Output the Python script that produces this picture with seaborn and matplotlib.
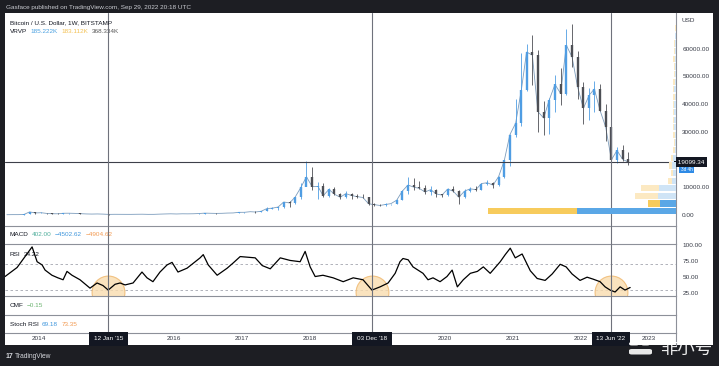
import numpy as np
import pandas as pd
import matplotlib
matplotlib.use("Agg")
import matplotlib.pyplot as plt
import seaborn as sns
from matplotlib.patches import FancyBboxPatch

# ---- data (BTC/USD Bitstamp, monthly candles) ----
month_start = "2013-07-01"
first_open = 97
closes = [106, 135, 133, 204, 1130, 732,
          830, 570, 458, 448, 628, 640, 586, 478, 386, 338, 378, 320,
          217, 254, 244, 236, 230, 264, 284, 230, 236, 314, 377, 430,
          368, 437, 416, 448, 531, 673, 624, 575, 609, 700, 742, 963,
          970, 1190, 1080, 1348, 2300, 2480, 2875, 4700, 4340, 6450, 9950, 13800,
          10200, 10330, 6930, 9240, 7500, 6390, 7730, 7030, 6620, 6320, 4040, 3740,
          3440, 3810, 4100, 5320, 8570, 10820, 10080, 9600, 8300, 9150, 7570, 7190,
          9350, 8540, 6410, 8630, 9450, 9140, 11350, 11650, 10780, 13800, 19700, 28990,
          33100, 45200, 58800, 57700, 37300, 35000, 41500, 47100, 43800, 61300, 57000, 46200,
          38500, 43200, 45500, 37700, 31800, 19900, 23300, 20050, 19100]
highs = [111, 140, 148, 215, 1163, 1150,
         1022, 900, 720, 550, 635, 680, 650, 600, 490, 415, 459, 385,
         320, 265, 300, 261, 248, 267, 317, 285, 245, 332, 495, 467,
         461, 448, 440, 467, 548, 780, 704, 626, 625, 712, 756, 974,
         1150, 1200, 1280, 1350, 2770, 3000, 2920, 4760, 5000, 6470, 11400, 19666,
         17200, 11790, 11700, 9760, 9990, 7780, 8500, 7770, 7400, 7680, 6590, 4300,
         4140, 4200, 4110, 5620, 9000, 13880, 13190, 12300, 10950, 10500, 9500, 7750,
         9600, 10500, 9200, 9470, 10080, 10380, 11440, 12480, 12050, 14100, 19900, 29300,
         41950, 58350, 61800, 64900, 59600, 41300, 42300, 50500, 52900, 67000, 69000, 59100,
         47990, 45800, 48200, 47400, 39900, 31900, 24700, 25200, 22800]
lows = [65, 100, 120, 103, 195, 450,
        730, 400, 440, 340, 420, 530, 570, 440, 375, 278, 315, 300,
        152, 205, 236, 214, 225, 218, 254, 199, 225, 234, 306, 345,
        350, 366, 390, 413, 440, 523, 604, 465, 590, 604, 694, 747,
        755, 915, 890, 1060, 1375, 2080, 1830, 2670, 2980, 4100, 5600, 10700,
        9030, 5920, 6600, 6430, 7040, 5750, 6070, 5880, 6120, 6200, 3650, 3120,
        3350, 3380, 3730, 4080, 5340, 7450, 9070, 9320, 7720, 7300, 6520, 6430,
        6850, 8420, 3850, 6150, 8120, 8830, 8970, 10960, 9830, 10370, 13200, 17570,
        28100, 32250, 44900, 47000, 30000, 28800, 29300, 37300, 39600, 43300, 53300, 42000,
        32900, 34300, 37150, 37580, 26700, 17600, 18800, 19550, 18150]

rsi_dates = ["2013-07-05", "2013-09-08", "2013-11-28", "2013-12-25", "2014-01-21", "2014-02-06",
             "2014-03-15", "2014-04-16", "2014-05-14", "2014-06-04", "2014-07-01", "2014-08-13",
             "2014-10-06", "2014-11-13", "2014-12-15", "2015-01-12", "2015-02-18", "2015-03-17",
             "2015-04-13", "2015-05-26", "2015-07-13", "2015-08-09", "2015-09-10", "2015-10-18",
             "2015-11-25", "2015-12-22", "2016-01-23", "2016-03-12", "2016-05-21", "2016-06-07",
             "2016-07-04", "2016-08-21", "2016-10-14", "2016-11-15", "2016-12-23", "2017-03-14",
             "2017-04-21", "2017-06-03", "2017-07-27", "2017-09-18", "2017-11-11", "2017-12-08",
             "2018-01-04", "2018-01-31", "2018-03-14", "2018-05-08", "2018-07-01", "2018-08-24",
             "2018-10-16", "2018-12-03", "2019-01-16", "2019-02-28", "2019-04-07", "2019-05-03",
             "2019-05-19", "2019-06-16", "2019-07-12", "2019-09-04", "2019-10-01", "2019-10-28",
             "2019-12-05", "2020-01-11", "2020-02-08", "2020-03-07", "2020-04-08", "2020-05-16",
             "2020-06-23", "2020-07-25", "2020-08-31", "2020-10-24", "2020-11-20", "2020-12-17",
             "2021-01-13", "2021-02-19", "2021-04-04", "2021-05-11", "2021-06-23", "2021-07-31",
             "2021-09-12", "2021-10-14", "2021-11-15", "2021-12-28", "2022-02-04", "2022-03-08",
             "2022-04-15", "2022-05-12", "2022-06-08", "2022-07-05", "2022-08-01", "2022-08-27",
             "2022-09-24"]
rsi_vals = [51, 65, 97, 74, 69, 61,
            53, 49, 46, 59, 53, 46,
            33, 41, 37, 30, 39, 41,
            38, 41, 58, 49, 43, 58,
            69, 73, 58, 64, 80, 85,
            69, 53, 64, 72, 82, 80,
            68, 63, 80, 76, 74, 90,
            66, 51, 53, 49, 43, 49,
            46, 30, 35, 41, 56, 74,
            79, 77, 66, 56, 46, 49,
            43, 51, 61, 35, 46, 56,
            59, 66, 56, 74, 85, 95,
            80, 86, 60, 48, 45, 55,
            70, 66, 55, 45, 50, 47,
            43, 35, 30, 27, 35, 30,
            34]

vp_step = 2750
vp_up = [108, 17.5, 19.5, 18.5, 4.5, 3, 4, 3, 1.5, 1.5, 1.5, 2, 2, 2, 2, 1.5, 1.8, 1.6, 1.4, 1.2, 1.5, 1.3, 1, 0.6, 0.4]
vp_down = [96, 13, 25, 19.5, 4.5, 2, 3.5, 2.5, 1.5, 1.2, 1.3, 1.7, 1.8, 1.8, 1.8, 1.3, 1.5, 1.4, 1.2, 1, 1.3, 1.2, 1, 0.6, 0.4]
vp_value_area = 2

price_ticks = [0, 10000, 30000, 40000, 50000, 60000]   # 20000 sits under the price label
rsi_ticks = [25, 50, 75, 100]
years = [2014, 2016, 2017, 2018, 2020, 2021, 2022, 2023]
mark_dates = ["2015-01-12", "2018-12-03", "2022-06-13"]
mark_labels = ["12 Jan '15", "03 Dec '18", "13 Jun '22"]
last_price = 19099.34

# ---- style ----
sns.set_theme(style="white")
plt.rcParams["font.family"] = ["Liberation Sans", "DejaVu Sans"]
FS = 4.6
UP, DOWN = "#4f9de3", "#4d4f55"
GRID = "#8d9099"
W, H = 719, 366


def px(x0, y0, x1, y1):
    return [x0 / W, 1 - y1 / H, (x1 - x0) / W, (y1 - y0) / H]


fig = plt.figure(figsize=(W / 100, H / 100), dpi=100, facecolor="#1d1e23")
bg = fig.add_axes(px(5, 13, 713, 345))
bg.set_facecolor("white")
bg.set_xticks([])
bg.set_yticks([])
for s in bg.spines.values():
    s.set_visible(False)

ax_p = fig.add_axes(px(5, 13, 676, 226))
ax_macd = fig.add_axes(px(5, 226, 676, 244), sharex=ax_p)
ax_rsi = fig.add_axes(px(5, 244, 676, 296), sharex=ax_p)
ax_cmf = fig.add_axes(px(5, 296, 676, 315), sharex=ax_p)
ax_st = fig.add_axes(px(5, 315, 676, 333), sharex=ax_p)
ax_t = fig.add_axes(px(5, 333, 676, 345), sharex=ax_p)
panes = [ax_p, ax_macd, ax_rsi, ax_cmf, ax_st, ax_t]

for ax in panes:
    ax.set_facecolor("none")
    for side in ["top", "left"]:
        ax.spines[side].set_visible(False)
    ax.spines["bottom"].set_color(GRID)
    ax.spines["right"].set_color(GRID)
    ax.spines["bottom"].set_linewidth(0.8)
    ax.spines["right"].set_linewidth(0.8)
    ax.tick_params(axis="x", length=0, labelbottom=False)
    ax.yaxis.tick_right()
    ax.tick_params(axis="y", length=0, labelsize=FS, pad=4.5, labelcolor="#363a45")
    ax.set_yticks([])
ax_t.spines["bottom"].set_visible(False)

# ---- price candles ----
dates = pd.date_range(month_start, periods=len(closes), freq="MS") + pd.Timedelta(days=14)
df = pd.DataFrame({"close": closes, "high": highs, "low": lows}, index=dates)
df["open"] = [first_open] + closes[:-1]  # each bar opens at the prior close
colors = np.where(df["close"] >= df["open"], UP, DOWN)
sns.lineplot(x=df.index, y=df["close"], ax=ax_p, color="#7d9dbd", lw=0.6, zorder=2)
ax_p.vlines(df.index, df["low"], df["high"], colors=colors, lw=0.6, zorder=3)
ax_p.vlines(df.index, df["open"], df["close"], colors=colors, lw=1.7, zorder=3)
ax_p.set_xlim(pd.Timestamp("2013-07-05"), pd.Timestamp("2023-05-29"))
ax_p.set_ylim(-3970, 72900)
ax_p.set_yticks(price_ticks)
ax_p.set_yticklabels([f"{v:.2f}" for v in price_ticks])
ax_p.set_xlabel("")
ax_p.set_ylabel("")
ax_p.axhline(last_price, color="#3d404a", lw=0.8, zorder=4)

# volume profile (anchored to the right edge)
ax_vp = ax_p.twiny()
ax_vp.set_xlim(730, 0)
ax_vp.set_ylim(ax_p.get_ylim())
ax_vp.axis("off")
centers = np.arange(len(vp_up)) * vp_step + vp_step / 2
for i, (u, d) in enumerate(zip(vp_up, vp_down)):
    bright = i < vp_value_area
    cu = "#5aa7e6" if bright else "#cfe4f6"
    cd = "#f7cb5c" if bright else "#fce9c2"
    ax_vp.barh(centers[i], u, left=0, height=vp_step * 0.82, color=cu, lw=0, zorder=2)
    ax_vp.barh(centers[i], d, left=u, height=vp_step * 0.82, color=cd, lw=0, zorder=2)

# ---- RSI ----
sns.lineplot(x=pd.to_datetime(rsi_dates), y=rsi_vals, ax=ax_rsi, color="black", lw=0.9, zorder=4)
ax_rsi.set_ylim(20.8, 101.5)
ax_rsi.set_yticks(rsi_ticks)
ax_rsi.set_yticklabels([f"{v:.2f}" for v in rsi_ticks])
for lvl in (70, 30):
    ax_rsi.axhline(lvl, color="#a3a6af", lw=0.6, ls=(0, (3, 3)), zorder=1)
ax_rsi.scatter(pd.to_datetime(mark_dates), [27] * 3, s=560, facecolor="#f9dcae", edgecolor="#efb66b",
               lw=0.8, alpha=0.8, zorder=2)
ax_rsi.set_xlabel("")
ax_rsi.set_ylabel("")

for ax in [ax_macd, ax_cmf, ax_st, ax_t]:
    ax.set_ylim(0, 1)

# crosshair lines
for d in pd.to_datetime(mark_dates):
    for ax in panes[:-1]:
        ax.axvline(d, color="#6f727c", lw=0.8, zorder=5)

# ---- time axis ----
for y in years:
    ax_t.text(pd.Timestamp(f"{y}-01-01"), 0.5, str(y), transform=ax_t.get_xaxis_transform(),
              ha="center", va="center", fontsize=FS, color="#363a45")
for d, lab in zip(pd.to_datetime(mark_dates), mark_labels):
    ax_t.text(d, 0.5, lab, transform=ax_t.get_xaxis_transform(), ha="center", va="center",
              fontsize=FS, color="white", zorder=6,
              bbox=dict(boxstyle="square,pad=0.75", fc="#131722", ec="none"))

# ---- price scale extras ----
ax_p.text(1.0, last_price, " 19099.34", transform=ax_p.get_yaxis_transform(), ha="left", va="center",
          fontsize=FS, color="white", zorder=6,
          bbox=dict(boxstyle="square,pad=0.35", fc="#131722", ec="none"))
ax_p.annotate("3d 4h", xy=(1.0, last_price), xycoords=ax_p.get_yaxis_transform(), xytext=(3.5, -5.2),
              textcoords="offset points", ha="left", va="center", fontsize=3.3, color="white",
              bbox=dict(boxstyle="square,pad=0.3", fc="#2f8be6", ec="none"), annotation_clip=False)
fig.text(682 / W, 1 - 21 / H, "USD", fontsize=FS, color="#363a45", va="center")


# ---- legends ----
def row(x, y, parts, fs=FS):
    prev = fig.text(x / W, 1 - y / H, parts[0][0], color=parts[0][1], fontsize=fs, va="center")
    for s, c in parts[1:]:
        prev = ax_p.annotate(s, xy=(1, 0.5), xycoords=prev, xytext=(2.4, 0), textcoords="offset points",
                             va="center", ha="left", color=c, fontsize=fs, annotation_clip=False)


DARK = "#131722"
row(10, 22.5, [("Bitcoin / U.S. Dollar, 1W, BITSTAMP", DARK)])
row(10, 31.5, [("VRVP", DARK), ("185.222K", "#4aa0e0"), ("183.112K", "#f3c154"), ("368.334K", "#555")])
row(10, 234.5, [("MACD", DARK), ("402.00", "#4fae9b"), ("\u22124502.62", "#3f96dc"), ("\u22124904.62", "#f29a52")])
row(10, 254, [("RSI", DARK), ("34.22", DARK)])
row(10, 305.5, [("CMF", DARK), ("\u22120.15", "#6bb36f")])
row(10, 324, [("Stoch RSI", DARK), ("69.18", "#3f96dc"), ("73.35", "#f29a52")])

# header / footer
fig.text(6 / W, 1 - 7 / H, "Gasface published on TradingView.com, Sep 29, 2022 20:18 UTC",
         fontsize=FS, color="#c9cbd1", va="center")
fig.text(6 / W, 1 - 356 / H, "17", fontsize=5, fontweight="bold", color="#d6d8dd", va="center")
fig.text(15 / W, 1 - 356 / H, "TradingView", fontsize=4.8, color="#d6d8dd", va="center")

# watermark
for (x0, y0, w, h) in [(629, 342, 10, 3.5), (641, 342, 9, 3.5), (629, 349, 23, 5.5)]:
    fig.patches.append(FancyBboxPatch((x0 / W, 1 - (y0 + h) / H), w / W, h / H,
                                      boxstyle="round,pad=0,rounding_size=0.004",
                                      transform=fig.transFigure, fc="white", ec="none", alpha=0.9))
fig.text(686 / W, 1 - 349 / H, "非小号", fontsize=12.5, color="white", alpha=0.92,
         ha="center", va="center", family=["Noto Sans CJK SC", "DejaVu Sans"])

fig.savefig("out.png", dpi=100, facecolor=fig.get_facecolor())
